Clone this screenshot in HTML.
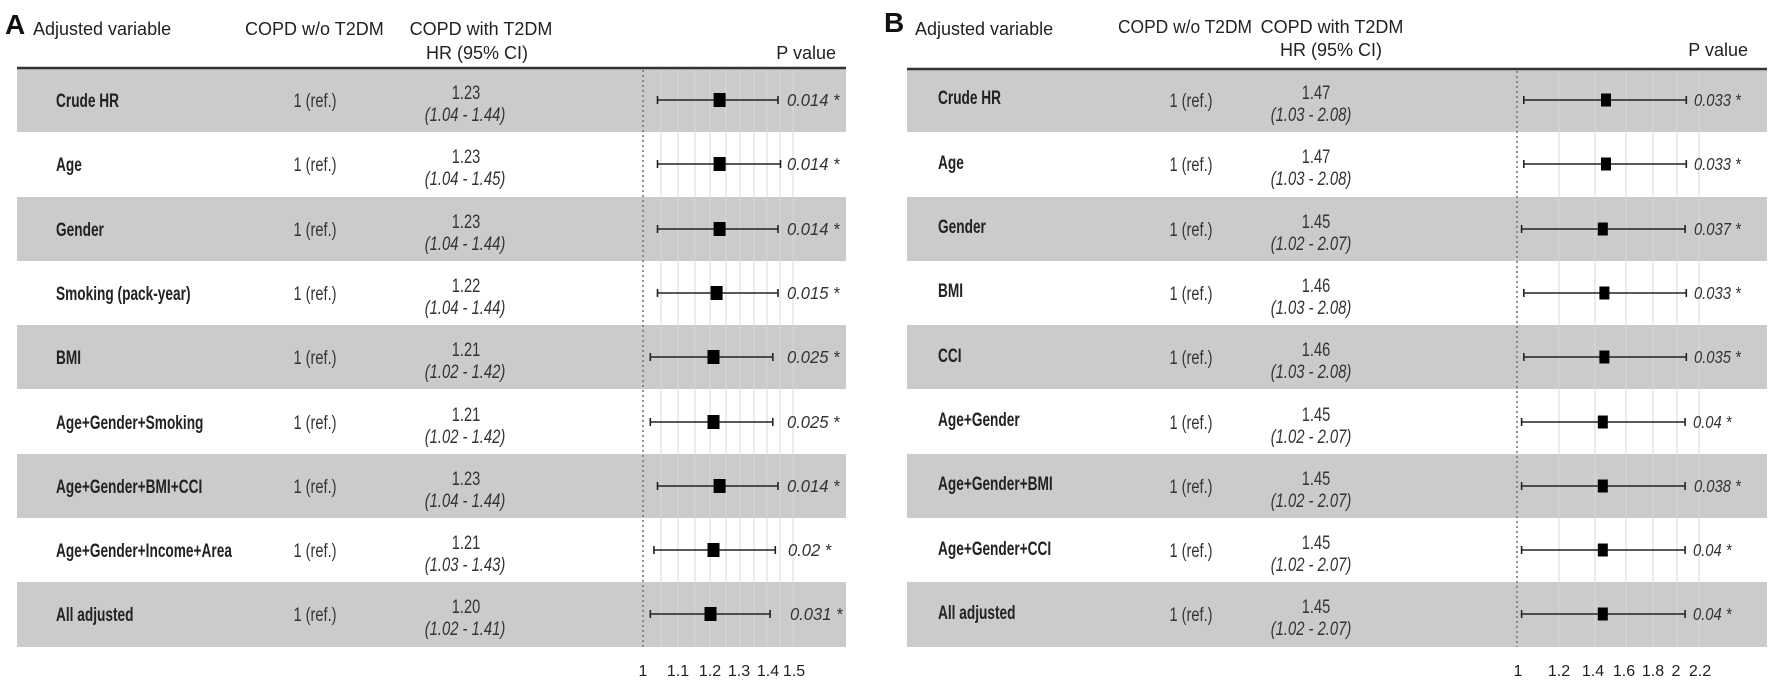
<!DOCTYPE html>
<html><head><meta charset="utf-8"><style>
html,body{margin:0;padding:0;background:#fff;}
svg{display:block;font-family:"Liberation Sans",sans-serif;}
.h{font-size:18px;fill:#222;}
.lb{font-size:19px;font-weight:bold;fill:#222;}
.n{font-size:19px;fill:#333;}
.ni{font-size:19px;fill:#333;font-style:italic;}
.p{font-size:18px;fill:#333;font-style:italic;}
.t{font-size:16px;fill:#222;}
.g{stroke:#dadada;stroke-width:1;}
.ci{stroke:#222;stroke-width:1.6;}
</style></head><body>
<svg width="1772" height="681" viewBox="0 0 1772 681">
<g fill="#cbcbcb">
<rect x="17" y="68" width="829" height="64"/>
<rect x="17" y="197" width="829" height="64"/>
<rect x="17" y="325" width="829" height="64"/>
<rect x="17" y="454" width="829" height="64"/>
<rect x="17" y="582" width="829" height="65"/>
</g>
<g fill="#cbcbcb">
<rect x="907" y="68" width="860" height="64"/>
<rect x="907" y="197" width="860" height="64"/>
<rect x="907" y="325" width="860" height="64"/>
<rect x="907" y="454" width="860" height="64"/>
<rect x="907" y="582" width="860" height="65"/>
</g>
<line x1="17" y1="68" x2="846" y2="68" stroke="#333" stroke-width="2.5"/>
<line x1="907" y1="69" x2="1767" y2="69" stroke="#333" stroke-width="2.5"/>
<g class="g">
<line x1="661" y1="70" x2="661" y2="647"/><line x1="678" y1="70" x2="678" y2="647"/>
<line x1="695" y1="70" x2="695" y2="647"/><line x1="710" y1="70" x2="710" y2="647"/>
<line x1="726" y1="70" x2="726" y2="647"/><line x1="740" y1="70" x2="740" y2="647"/>
<line x1="754" y1="70" x2="754" y2="647"/><line x1="767" y1="70" x2="767" y2="647"/>
<line x1="780" y1="70" x2="780" y2="647"/><line x1="793" y1="70" x2="793" y2="647"/>
</g>
<g class="g">
<line x1="1559" y1="71" x2="1559" y2="647"/><line x1="1595" y1="71" x2="1595" y2="647"/>
<line x1="1626" y1="71" x2="1626" y2="647"/><line x1="1653" y1="71" x2="1653" y2="647"/>
<line x1="1677" y1="71" x2="1677" y2="647"/><line x1="1699" y1="71" x2="1699" y2="647"/>
</g>
<line x1="643" y1="70" x2="643" y2="647" stroke="#777" stroke-width="1.6" stroke-dasharray="2,3"/>
<line x1="1517" y1="71" x2="1517" y2="647" stroke="#777" stroke-width="1.6" stroke-dasharray="2,3"/>

<text x="5" y="34" font-size="28" font-weight="bold" fill="#111">A</text>
<text class="h" x="33" y="35">Adjusted variable</text>
<text class="h" x="245" y="35">COPD w/o T2DM</text>
<text class="h" x="481" y="35" text-anchor="middle">COPD with T2DM</text>
<text class="h" x="477" y="59" text-anchor="middle">HR (95% CI)</text>
<text class="h" x="836" y="59" text-anchor="end">P value</text>
<text x="884" y="32" font-size="28" font-weight="bold" fill="#111">B</text>
<text class="h" x="915" y="35">Adjusted variable</text>
<text class="h" x="1118" y="33" textLength="134" lengthAdjust="spacingAndGlyphs">COPD w/o T2DM</text>
<text class="h" x="1332" y="33" text-anchor="middle">COPD with T2DM</text>
<text class="h" x="1331" y="56" text-anchor="middle">HR (95% CI)</text>
<text class="h" x="1748" y="56" text-anchor="end">P value</text>

<g class="lb">
<text transform="translate(56,107) scale(0.72,1)">Crude HR</text>
<text transform="translate(56,171) scale(0.72,1)">Age</text>
<text transform="translate(56,236) scale(0.72,1)">Gender</text>
<text transform="translate(56,300) scale(0.72,1)">Smoking (pack-year)</text>
<text transform="translate(56,364) scale(0.72,1)">BMI</text>
<text transform="translate(56,429) scale(0.72,1)">Age+Gender+Smoking</text>
<text transform="translate(56,493) scale(0.72,1)">Age+Gender+BMI+CCI</text>
<text transform="translate(56,557) scale(0.72,1)">Age+Gender+Income+Area</text>
<text transform="translate(56,621) scale(0.72,1)">All adjusted</text>
</g>
<g class="n" text-anchor="middle">
<text transform="translate(315,107) scale(0.77,1)">1 (ref.)</text>
<text transform="translate(315,171) scale(0.77,1)">1 (ref.)</text>
<text transform="translate(315,236) scale(0.77,1)">1 (ref.)</text>
<text transform="translate(315,300) scale(0.77,1)">1 (ref.)</text>
<text transform="translate(315,364) scale(0.77,1)">1 (ref.)</text>
<text transform="translate(315,429) scale(0.77,1)">1 (ref.)</text>
<text transform="translate(315,493) scale(0.77,1)">1 (ref.)</text>
<text transform="translate(315,557) scale(0.77,1)">1 (ref.)</text>
<text transform="translate(315,621) scale(0.77,1)">1 (ref.)</text>
<text transform="translate(466,99) scale(0.77,1)">1.23</text>
<text transform="translate(466,163) scale(0.77,1)">1.23</text>
<text transform="translate(466,228) scale(0.77,1)">1.23</text>
<text transform="translate(466,292) scale(0.77,1)">1.22</text>
<text transform="translate(466,356) scale(0.77,1)">1.21</text>
<text transform="translate(466,421) scale(0.77,1)">1.21</text>
<text transform="translate(466,485) scale(0.77,1)">1.23</text>
<text transform="translate(466,549) scale(0.77,1)">1.21</text>
<text transform="translate(466,613) scale(0.77,1)">1.20</text>
</g>
<g class="ni" text-anchor="middle">
<text transform="translate(465,121) scale(0.78,1)">(1.04 - 1.44)</text>
<text transform="translate(465,185) scale(0.78,1)">(1.04 - 1.45)</text>
<text transform="translate(465,250) scale(0.78,1)">(1.04 - 1.44)</text>
<text transform="translate(465,314) scale(0.78,1)">(1.04 - 1.44)</text>
<text transform="translate(465,378) scale(0.78,1)">(1.02 - 1.42)</text>
<text transform="translate(465,443) scale(0.78,1)">(1.02 - 1.42)</text>
<text transform="translate(465,507) scale(0.78,1)">(1.04 - 1.44)</text>
<text transform="translate(465,571) scale(0.78,1)">(1.03 - 1.43)</text>
<text transform="translate(465,635) scale(0.78,1)">(1.02 - 1.41)</text>
</g>
<g class="p">
<text transform="translate(787,106) scale(0.92,1)">0.014 *</text>
<text transform="translate(787,170) scale(0.92,1)">0.014 *</text>
<text transform="translate(787,235) scale(0.92,1)">0.014 *</text>
<text transform="translate(787,299) scale(0.92,1)">0.015 *</text>
<text transform="translate(787,363) scale(0.92,1)">0.025 *</text>
<text transform="translate(787,428) scale(0.92,1)">0.025 *</text>
<text transform="translate(787,492) scale(0.92,1)">0.014 *</text>
<text transform="translate(788,556) scale(0.92,1)">0.02 *</text>
<text transform="translate(790,620) scale(0.92,1)">0.031 *</text>
</g>
<g class="ci">
<path d="M657.5 100H778M657.5 96v8M778 96v8"/>
<path d="M657.5 164H780.5M657.5 160v8M780.5 160v8"/>
<path d="M657.5 229H778M657.5 225v8M778 225v8"/>
<path d="M657.5 293H778M657.5 289v8M778 289v8"/>
<path d="M650.3 357H772.8M650.3 353v8M772.8 353v8"/>
<path d="M650.3 422H772.8M650.3 418v8M772.8 418v8"/>
<path d="M657.5 486H778M657.5 482v8M778 482v8"/>
<path d="M653.9 550H775.3M653.9 546v8M775.3 546v8"/>
<path d="M650.3 614H770.1M650.3 610v8M770.1 610v8"/>
</g>
<g fill="#000">
<rect x="713.6" y="93" width="12" height="14"/>
<rect x="713.6" y="157" width="12" height="14"/>
<rect x="713.6" y="222" width="12" height="14"/>
<rect x="710.6" y="286" width="12" height="14"/>
<rect x="707.5" y="350" width="12" height="14"/>
<rect x="707.5" y="415" width="12" height="14"/>
<rect x="713.6" y="479" width="12" height="14"/>
<rect x="707.5" y="543" width="12" height="14"/>
<rect x="704.5" y="607" width="12" height="14"/>
</g>
<g class="t" text-anchor="middle">
<text x="643" y="676">1</text><text x="678" y="676">1.1</text><text x="710" y="676">1.2</text>
<text x="739" y="676">1.3</text><text x="768" y="676">1.4</text><text x="794" y="676">1.5</text>
</g>

<g class="lb">
<text transform="translate(938,104) scale(0.72,1)">Crude HR</text>
<text transform="translate(938,169) scale(0.72,1)">Age</text>
<text transform="translate(938,233) scale(0.72,1)">Gender</text>
<text transform="translate(938,297) scale(0.72,1)">BMI</text>
<text transform="translate(938,362) scale(0.72,1)">CCI</text>
<text transform="translate(938,426) scale(0.72,1)">Age+Gender</text>
<text transform="translate(938,490) scale(0.72,1)">Age+Gender+BMI</text>
<text transform="translate(938,555) scale(0.72,1)">Age+Gender+CCI</text>
<text transform="translate(938,619) scale(0.72,1)">All adjusted</text>
</g>
<g class="n" text-anchor="middle">
<text transform="translate(1191,107) scale(0.77,1)">1 (ref.)</text>
<text transform="translate(1191,171) scale(0.77,1)">1 (ref.)</text>
<text transform="translate(1191,236) scale(0.77,1)">1 (ref.)</text>
<text transform="translate(1191,300) scale(0.77,1)">1 (ref.)</text>
<text transform="translate(1191,364) scale(0.77,1)">1 (ref.)</text>
<text transform="translate(1191,429) scale(0.77,1)">1 (ref.)</text>
<text transform="translate(1191,493) scale(0.77,1)">1 (ref.)</text>
<text transform="translate(1191,557) scale(0.77,1)">1 (ref.)</text>
<text transform="translate(1191,621) scale(0.77,1)">1 (ref.)</text>
<text transform="translate(1316,99) scale(0.77,1)">1.47</text>
<text transform="translate(1316,163) scale(0.77,1)">1.47</text>
<text transform="translate(1316,228) scale(0.77,1)">1.45</text>
<text transform="translate(1316,292) scale(0.77,1)">1.46</text>
<text transform="translate(1316,356) scale(0.77,1)">1.46</text>
<text transform="translate(1316,421) scale(0.77,1)">1.45</text>
<text transform="translate(1316,485) scale(0.77,1)">1.45</text>
<text transform="translate(1316,549) scale(0.77,1)">1.45</text>
<text transform="translate(1316,613) scale(0.77,1)">1.45</text>
</g>
<g class="ni" text-anchor="middle">
<text transform="translate(1311,121) scale(0.78,1)">(1.03 - 2.08)</text>
<text transform="translate(1311,185) scale(0.78,1)">(1.03 - 2.08)</text>
<text transform="translate(1311,250) scale(0.78,1)">(1.02 - 2.07)</text>
<text transform="translate(1311,314) scale(0.78,1)">(1.03 - 2.08)</text>
<text transform="translate(1311,378) scale(0.78,1)">(1.03 - 2.08)</text>
<text transform="translate(1311,443) scale(0.78,1)">(1.02 - 2.07)</text>
<text transform="translate(1311,507) scale(0.78,1)">(1.02 - 2.07)</text>
<text transform="translate(1311,571) scale(0.78,1)">(1.02 - 2.07)</text>
<text transform="translate(1311,635) scale(0.78,1)">(1.02 - 2.07)</text>
</g>
<g class="p">
<text transform="translate(1694,106) scale(0.82,1)">0.033 *</text>
<text transform="translate(1694,170) scale(0.82,1)">0.033 *</text>
<text transform="translate(1694,235) scale(0.82,1)">0.037 *</text>
<text transform="translate(1694,299) scale(0.82,1)">0.033 *</text>
<text transform="translate(1694,363) scale(0.82,1)">0.035 *</text>
<text transform="translate(1693,428) scale(0.82,1)">0.04 *</text>
<text transform="translate(1694,492) scale(0.82,1)">0.038 *</text>
<text transform="translate(1693,556) scale(0.82,1)">0.04 *</text>
<text transform="translate(1693,620) scale(0.82,1)">0.04 *</text>
</g>
<g class="ci">
<path d="M1523.8 100H1686.3M1523.8 96v8M1686.3 96v8"/>
<path d="M1523.8 164H1686.3M1523.8 160v8M1686.3 160v8"/>
<path d="M1521.6 229H1685.1M1521.6 225v8M1685.1 225v8"/>
<path d="M1523.8 293H1686.3M1523.8 289v8M1686.3 289v8"/>
<path d="M1523.8 357H1686.3M1523.8 353v8M1686.3 353v8"/>
<path d="M1521.6 422H1685.1M1521.6 418v8M1685.1 418v8"/>
<path d="M1521.6 486H1685.1M1521.6 482v8M1685.1 482v8"/>
<path d="M1521.6 550H1685.1M1521.6 546v8M1685.1 546v8"/>
<path d="M1521.6 614H1685.1M1521.6 610v8M1685.1 610v8"/>
</g>
<g fill="#000">
<rect x="1601" y="93.5" width="10" height="13"/>
<rect x="1601" y="157.5" width="10" height="13"/>
<rect x="1597.8" y="222.5" width="10" height="13"/>
<rect x="1599.4" y="286.5" width="10" height="13"/>
<rect x="1599.4" y="350.5" width="10" height="13"/>
<rect x="1597.8" y="415.5" width="10" height="13"/>
<rect x="1597.8" y="479.5" width="10" height="13"/>
<rect x="1597.8" y="543.5" width="10" height="13"/>
<rect x="1597.8" y="607.5" width="10" height="13"/>
</g>
<g class="t" text-anchor="middle">
<text x="1518" y="676">1</text><text x="1559" y="676">1.2</text><text x="1593" y="676">1.4</text>
<text x="1624" y="676">1.6</text><text x="1653" y="676">1.8</text><text x="1676" y="676">2</text>
<text x="1700" y="676">2.2</text>
</g>
</svg>
</body></html>
